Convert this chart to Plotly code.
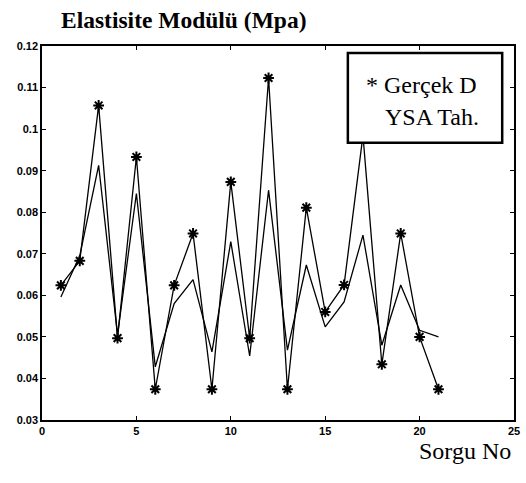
import plotly.graph_objects as go

sorgu_no = list(range(1, 22))
gercek = [0.0624, 0.0683, 0.1057, 0.0497, 0.0933, 0.0374, 0.0624, 0.0749, 0.0374, 0.0873,
          0.0497, 0.1123, 0.0374, 0.0811, 0.0560, 0.0625, 0.0985, 0.0434, 0.0749, 0.0500, 0.0374]
ysa = [0.0596, 0.0695, 0.0913, 0.0505, 0.0845, 0.0428, 0.0580, 0.0638, 0.0464, 0.0729,
       0.0454, 0.0853, 0.0468, 0.0673, 0.0524, 0.0584, 0.0745, 0.0480, 0.0625, 0.0516, 0.0500]
x_ticks = [0, 5, 10, 15, 20, 25]
x_tick_labels = ["0", "5", "10", "15", "20", "25"]
y_ticks = [0.03, 0.04, 0.05, 0.06, 0.07, 0.08, 0.09, 0.1, 0.11, 0.12]
y_tick_labels = ["0.03", "0.04", "0.05", "0.06", "0.07", "0.08", "0.09", "0.1", "0.11", "0.12"]

SERIF = "'Liberation Serif', 'Times New Roman', 'DejaVu Serif', serif"

fig = go.Figure()
fig.add_trace(go.Scatter(x=sorgu_no, y=ysa, mode="lines", name="YSA Tah.",
                         line=dict(color="black", width=1.3)))
fig.add_trace(go.Scatter(x=sorgu_no, y=gercek, mode="lines+markers", name="Gerçek D",
                         line=dict(color="black", width=1.3),
                         marker=dict(symbol="asterisk-open", size=9,
                                     line=dict(color="black", width=2))))

axis_common = dict(showline=True, linecolor="black", linewidth=1.5, mirror="ticks",
                   ticks="inside", ticklen=4, tickcolor="black", showgrid=False,
                   zeroline=False, automargin=False,
                   tickfont=dict(family="Arial, 'Liberation Sans', sans-serif", size=11, color="black"))

fig.update_layout(
    width=526, height=483,
    margin=dict(l=42, r=12, t=46, b=63),
    paper_bgcolor="white", plot_bgcolor="white",
    showlegend=False,
    xaxis=dict(range=[0, 25], tickvals=x_ticks,
               ticktext=["<b>%s</b>" % t for t in x_tick_labels], **axis_common),
    yaxis=dict(range=[0.03, 0.12], tickvals=y_ticks,
               ticktext=["<b>%s</b>" % t for t in y_tick_labels], **axis_common),
    shapes=[dict(type="rect", xref="paper", yref="paper", x0=0.648, x1=0.975, y0=0.741, y1=0.981,
                 fillcolor="white", line=dict(color="black", width=2.5), layer="above")],
    annotations=[
        dict(text="<b>Elastisite Modülü (Mpa)</b>", xref="paper", yref="paper",
             x=(183 - 42) / 472, y=(420 - 20) / 374, xanchor="center", yanchor="middle",
             showarrow=False, font=dict(family=SERIF, size=23.5, color="black")),
        dict(text="Sorgu No", xref="paper", yref="paper",
             x=(465 - 42) / 472, y=(420 - 451) / 374, xanchor="center", yanchor="middle",
             showarrow=False, font=dict(family=SERIF, size=24, color="black")),
        dict(text="* Gerçek D", xref="paper", yref="paper",
             x=(421 - 42) / 472, y=(420 - 85) / 374, xanchor="center", yanchor="middle",
             showarrow=False, font=dict(family=SERIF, size=24, color="black")),
        dict(text="YSA Tah.", xref="paper", yref="paper",
             x=(432 - 42) / 472, y=(420 - 117) / 374, xanchor="center", yanchor="middle",
             showarrow=False, font=dict(family=SERIF, size=24, color="black")),
    ],
)

fig.write_html("out.html", config={"displayModeBar": False},
               post_script="document.body.style.margin='0';")
